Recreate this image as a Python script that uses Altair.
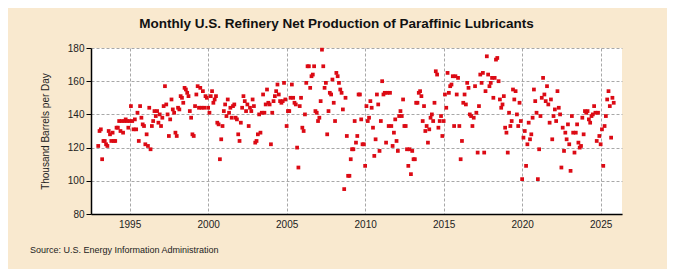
import altair as alt
import pandas as pd

# Monthly values (thousand barrels per day), Jan..Dec
y1993 = [121, 130, 131, 113, 124, 124, 122, 121, 130, 128, 124, 129]
y1994 = [124, 124, 132, 132, 136, 130, 136, 129, 136, 137, 136, 132]
y1995 = [136, 145, 136, 131, 137, 131, 141, 124, 145, 138, 134, 133]
y1996 = [122, 128, 121, 144, 119, 133, 136, 142, 139, 142, 135, 140]
y1997 = [133, 138, 145, 157, 146, 140, 127, 137, 149, 143, 141, 129]
y1998 = [127, 144, 143, 151, 150, 147, 156, 155, 153, 151, 142, 138]
y1999 = [128, 127, 145, 152, 157, 144, 156, 144, 154, 144, 151, 150]
y2000 = [144, 141, 151, 154, 147, 149, 151, 135, 134, 113, 125, 133]
y2001 = [142, 146, 139, 149, 141, 144, 138, 145, 146, 138, 137, 128]
y2002 = [124, 135, 144, 151, 148, 142, 146, 133, 144, 142, 149, 145]
y2003 = [123, 124, 128, 140, 129, 141, 152, 141, 146, 155, 147, 146]
y2004 = [122, 141, 148, 151, 154, 158, 152, 148, 147, 148, 159, 149]
y2005 = [133, 142, 142, 150, 158, 150, 147, 146, 120, 108, 145, 150]
y2006 = [132, 130, 140, 159, 169, 169, 156, 163, 164, 169, 142, 141]
y2007 = [136, 138, 148, 179, 169, 156, 159, 128, 142, 153, 152, 161]
y2008 = [147, 136, 165, 163, 159, 155, 153, 143, 95, 150, 127, 103]
y2009 = [103, 113, 119, 119, 136, 123, 127, 152, 152, 137, 122, 122]
y2010 = [109, 145, 136, 138, 148, 144, 132, 115, 125, 152, 146, 118]
y2011 = [136, 160, 152, 153, 123, 153, 133, 153, 133, 121, 129, 137]
y2012 = [124, 118, 139, 142, 139, 149, 133, 133, 119, 109, 119, 104]
y2013 = [118, 113, 113, 147, 147, 153, 154, 151, 136, 145, 130, 133]
y2014 = [123, 131, 138, 140, 136, 147, 166, 164, 132, 136, 139, 127]
y2015 = [136, 152, 144, 165, 153, 157, 158, 163, 133, 163, 152, 162]
y2016 = [133, 113, 124, 147, 152, 146, 159, 156, 140, 139, 133, 138]
y2017 = [157, 141, 117, 145, 164, 159, 165, 117, 154, 175, 164, 157]
y2018 = [159, 162, 150, 162, 173, 174, 160, 149, 144, 146, 151, 132]
y2019 = [129, 117, 141, 133, 136, 155, 149, 154, 140, 133, 147, 136]
y2020 = [101, 126, 130, 109, 122, 135, 125, 128, 138, 155, 148, 141]
y2021 = [101, 119, 139, 150, 162, 152, 148, 157, 146, 135, 149, 125]
y2022 = [139, 143, 136, 154, 144, 140, 108, 132, 118, 129, 125, 134]
y2023 = [122, 106, 139, 129, 117, 129, 134, 123, 120, 121, 138, 128]
y2024 = [142, 141, 142, 137, 135, 139, 140, 145, 141, 124, 141, 127]
y2025 = [122, 131, 109, 133, 139, 149, 154, 145, 126, 150, 147]

series_by_year = [
    (1993, y1993), (1994, y1994), (1995, y1995), (1996, y1996), (1997, y1997),
    (1998, y1998), (1999, y1999), (2000, y2000), (2001, y2001), (2002, y2002),
    (2003, y2003), (2004, y2004), (2005, y2005), (2006, y2006), (2007, y2007),
    (2008, y2008), (2009, y2009), (2010, y2010), (2011, y2011), (2012, y2012),
    (2013, y2013), (2014, y2014), (2015, y2015), (2016, y2016), (2017, y2017),
    (2018, y2018), (2019, y2019), (2020, y2020), (2021, y2021), (2022, y2022),
    (2023, y2023), (2024, y2024), (2025, y2025),
]

x_ticks = [1995, 2000, 2005, 2010, 2015, 2020, 2025]
y_ticks = [80, 100, 120, 140, 160, 180]

title_text = "Monthly U.S. Refinery Net Production of Paraffinic Lubricants"
y_title = "Thousand Barrels per Day"
source_text = "Source: U.S. Energy Information Administration"

rows = []
for yr, vals in series_by_year:
    for i, v in enumerate(vals):
        rows.append({"t": yr + i / 12.0, "v": v})
df = pd.DataFrame(rows)

FONT = "Liberation Sans, Arial, sans-serif"
W, H = 531, 166

points = alt.Chart(df).mark_square(size=14, color="#DC0A14", opacity=1).encode(
    x=alt.X("t:Q",
            scale=alt.Scale(domain=[1992.54, 2026.36], nice=False, zero=False),
            axis=alt.Axis(values=x_ticks, format="d", title=None, grid=True,
                          gridDash=[3, 2], gridColor="#A8A8A8", ticks=False,
                          labelFontSize=10, labelFont=FONT, labelColor="#222",
                          labelPadding=5, domainColor="#000", domainWidth=1.5)),
    y=alt.Y("v:Q",
            scale=alt.Scale(domain=[80, 180], nice=False, zero=False),
            axis=alt.Axis(values=y_ticks, title=y_title, grid=True,
                          gridDash=[3, 2], gridColor="#A8A8A8",
                          tickSize=5, tickColor="#000", labelFontSize=10,
                          labelFont=FONT, labelColor="#222", labelPadding=2,
                          domainColor="#000", domainWidth=1.5,
                          titleFont=FONT, titleFontSize=10, titleFontWeight="normal",
                          titleColor="#222", titleX=-46, titleY=H / 2,
                          titleAngle=270, titleAlign="center", titleBaseline="middle")),
)

source = alt.Chart(pd.DataFrame({"s": [source_text]})).mark_text(
    align="left", baseline="middle", fontSize=9, font=FONT, color="#222"
).encode(x=alt.value(-61), y=alt.value(202), text="s:N")

chart = alt.layer(points, source).properties(
    width=W, height=H,
    background="#F9E9CF",
    padding={"left": 83, "top": 40, "right": 45, "bottom": 55},
    autosize=alt.AutoSizeParams(type="none"),
    title=alt.TitleParams(title_text, font="Liberation Sans Narrow, Arial Narrow, Liberation Sans, sans-serif",
                          fontSize=13.5, fontWeight="bold", color="#111",
                          anchor="middle", dx=-20, frame="group",
                          baseline="alphabetic", offset=2),
).configure_view(fill="white", stroke=None)

chart.save("out.html", embed_options={"renderer": "svg", "actions": False})
